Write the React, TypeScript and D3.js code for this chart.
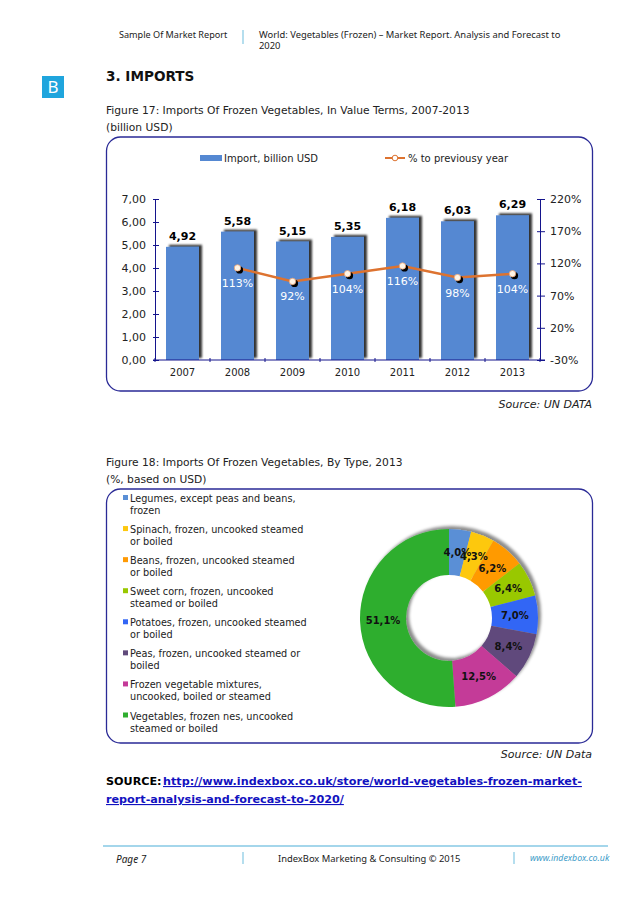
import React, { useEffect, useRef } from 'react';
import * as d3 from 'd3';

const years = ['2007', '2008', '2009', '2010', '2011', '2012', '2013'];
const imports = [4.92, 5.58, 5.15, 5.35, 6.18, 6.03, 6.29];
const yoyYears = ['2008', '2009', '2010', '2011', '2012', '2013'];
const yoy = [113, 92, 104, 116, 98, 104];
const leftTicks = [0, 1, 2, 3, 4, 5, 6, 7];
const rightTicks = [-30, 20, 70, 120, 170, 220];

const typeNames = [
  ['Legumes, except peas and beans,', 'frozen'],
  ['Spinach, frozen, uncooked steamed', 'or boiled'],
  ['Beans, frozen, uncooked steamed', 'or boiled'],
  ['Sweet corn, frozen, uncooked', 'steamed or boiled'],
  ['Potatoes, frozen, uncooked steamed', 'or boiled'],
  ['Peas, frozen, uncooked steamed or', 'boiled'],
  ['Frozen vegetable mixtures,', 'uncooked, boiled or steamed'],
  ['Vegetables, frozen nes, uncooked', 'steamed or boiled'],
];
const typeShares = [4.0, 4.3, 6.2, 6.4, 7.0, 8.4, 12.5, 51.1];
const typeColors = ['#5a8fd6', '#fdc80f', '#ff9a05', '#99c800', '#3366f5', '#604a7b', '#c43a98', '#2fae2f'];

const SANS = 'DejaVu Sans, Verdana, sans-serif';
const NARROW = '"Noto Sans", Tahoma, sans-serif';
const NAVY = '#14148c';

const comma = d3.formatLocale({ decimal: ',', thousands: ' ', grouping: [3], currency: ['', ''] });
const fmt2 = comma.format('.2f');
const fmt1 = comma.format('.1f');

export default function App() {
  const svgRef = useRef<SVGSVGElement>(null);

  useEffect(() => {
    if (!svgRef.current) return;
    const svg = d3.select(svgRef.current);
    svg.selectAll('*').remove();

    const defs = svg.append('defs');
    const shadow = defs.append('filter').attr('id', 'barShadow')
      .attr('x', '-20%').attr('y', '-20%').attr('width', '150%').attr('height', '140%');
    shadow.append('feDropShadow').attr('dx', 3).attr('dy', -2).attr('stdDeviation', 1)
      .attr('flood-color', '#000').attr('flood-opacity', 0.8);
    const pieShadow = defs.append('filter').attr('id', 'pieShadow')
      .attr('x', '-20%').attr('y', '-20%').attr('width', '140%').attr('height', '140%');
    pieShadow.append('feDropShadow').attr('dx', 3).attr('dy', -3).attr('stdDeviation', 1.5)
      .attr('flood-color', '#000').attr('flood-opacity', 0.45);

    const text = (x: number, y: number, s: string, size: number, opts: any = {}) =>
      svg.append('text').attr('x', x).attr('y', y).text(s)
        .attr('font-family', opts.family || SANS).attr('font-size', size)
        .attr('font-weight', opts.weight || 'normal').attr('font-style', opts.style || 'normal')
        .attr('fill', opts.fill || '#222').attr('text-anchor', opts.anchor || 'start')
        .attr('text-decoration', opts.deco || null);

    // page furniture
    text(119, 38, 'Sample Of Market Report', 9.1, { family: NARROW });
    text(259, 38, 'World: Vegetables (Frozen) – Market Report. Analysis and Forecast to', 9.4, { family: NARROW });
    text(259, 49, '2020', 9.4, { family: NARROW });
    svg.append('rect').attr('x', 242).attr('y', 30).attr('width', 2).attr('height', 14).attr('fill', '#b5deee');
    svg.append('rect').attr('x', 42).attr('y', 76).attr('width', 22).attr('height', 22).attr('fill', '#1fa5dd');
    text(53, 93, 'B', 17, { family: NARROW, fill: '#fff', anchor: 'middle' });
    text(106, 81, '3. IMPORTS', 13.6, { weight: 'bold', fill: '#111' });
    text(106, 114, 'Figure 17: Imports Of Frozen Vegetables, In Value Terms, 2007-2013', 10.7);
    text(106, 131, '(billion USD)', 10.7);

    svg.append('rect').attr('x', 106.5).attr('y', 137).attr('width', 486).attr('height', 254).attr('rx', 14)
      .attr('fill', '#fff').attr('stroke', '#2a2a96').attr('stroke-width', 1.3);

    // chart 1
    const x = d3.scaleBand<string>().domain(years).range([155, 540]).paddingInner(0.4).paddingOuter(0.2);
    const yL = d3.scaleLinear().domain([0, 7]).range([360, 199]);
    const yR = d3.scaleLinear().domain([-30, 220]).range([360, 199]);
    const cx = (d: string) => (x(d) as number) + x.bandwidth() / 2;

    svg.append('g').selectAll('rect').data(imports).join('rect')
      .attr('x', (_, i) => x(years[i]) as number)
      .attr('y', d => yL(d))
      .attr('width', x.bandwidth())
      .attr('height', d => yL(0) - yL(d))
      .attr('fill', '#5588d2')
      .attr('filter', 'url(#barShadow)');

    const axisStyle = (g: any) => {
      g.selectAll('path,line').attr('stroke', NAVY).attr('stroke-width', 1);
      g.selectAll('text').attr('fill', '#222').attr('font-family', SANS).attr('font-size', 11);
    };
    svg.append('g').attr('transform', 'translate(155,0)')
      .call(d3.axisLeft(yL).tickValues(leftTicks).tickFormat(d => fmt2(d as number)).tickSize(0).tickPadding(9).tickSizeOuter(0) as any)
      .call(axisStyle)
      .call((g: any) => g.selectAll('.tick').append('line').attr('x1', -2).attr('x2', 4).attr('stroke', NAVY));
    svg.append('g').attr('transform', 'translate(540,0)')
      .call(d3.axisRight(yR).tickValues(rightTicks).tickFormat(d => `${d}%`).tickSize(0).tickPadding(10).tickSizeOuter(0) as any)
      .call(axisStyle)
      .call((g: any) => g.selectAll('.tick').append('line').attr('x1', -3).attr('x2', 5).attr('stroke', NAVY));

    const baseline = svg.append('g');
    baseline.append('line').attr('x1', 153).attr('x2', 545).attr('y1', yL(0)).attr('y2', yL(0)).attr('stroke', NAVY);
    baseline.selectAll('line.t').data(d3.range(years.length + 1)).join('line').attr('class', 't')
      .attr('x1', i => 155 + x.step() * i).attr('x2', i => 155 + x.step() * i)
      .attr('y1', 358).attr('y2', 362).attr('stroke', NAVY);

    svg.append('g').selectAll('text').data(years).join('text')
      .attr('x', cx).attr('y', 376).text(d => d)
      .attr('text-anchor', 'middle').attr('font-family', SANS).attr('font-size', 10).attr('fill', '#222');

    svg.append('g').selectAll('text').data(imports).join('text')
      .attr('x', (_, i) => cx(years[i])).attr('y', d => yL(d) - 7).text(d => fmt2(d))
      .attr('text-anchor', 'middle').attr('font-family', SANS).attr('font-weight', 'bold')
      .attr('font-size', 11).attr('fill', '#000');

    const line = d3.line<number>().x((_, i) => cx(yoyYears[i])).y(d => yR(d));
    svg.append('path').attr('d', line(yoy)).attr('fill', 'none').attr('stroke', '#dd7330').attr('stroke-width', 2.5);
    svg.append('g').selectAll('circle').data(yoy).join('circle')
      .attr('cx', (_, i) => cx(yoyYears[i]) + 2).attr('cy', d => yR(d) + 2).attr('r', 3.6).attr('fill', '#000');
    svg.append('g').selectAll('circle').data(yoy).join('circle')
      .attr('cx', (_, i) => cx(yoyYears[i])).attr('cy', d => yR(d)).attr('r', 3.2)
      .attr('fill', '#fff4e6').attr('stroke', '#e8a070').attr('stroke-width', 0.8);
    svg.append('g').selectAll('text').data(yoy).join('text')
      .attr('x', (_, i) => cx(yoyYears[i])).attr('y', d => yR(d) + 19).text(d => `${d}%`)
      .attr('text-anchor', 'middle').attr('font-family', SANS).attr('font-size', 11).attr('fill', '#fff');

    // legend chart 1
    svg.append('rect').attr('x', 200).attr('y', 155).attr('width', 22).attr('height', 6).attr('fill', '#5588d2');
    text(224, 162, 'Import, billion USD', 10);
    svg.append('line').attr('x1', 385).attr('x2', 405).attr('y1', 158).attr('y2', 158).attr('stroke', '#dd7330').attr('stroke-width', 2);
    svg.append('circle').attr('cx', 395).attr('cy', 158).attr('r', 2.8).attr('fill', '#fff').attr('stroke', '#dd7330');
    text(408, 162, '% to previousy year', 10);

    text(592, 408, 'Source: UN DATA', 11, { style: 'italic', anchor: 'end' });
    text(106, 466, 'Figure 18: Imports Of Frozen Vegetables, By Type, 2013', 10.7);
    text(106, 483, '(%, based on USD)', 10.7);

    svg.append('rect').attr('x', 106.5).attr('y', 489).attr('width', 486).attr('height', 254).attr('rx', 14)
      .attr('fill', '#fff').attr('stroke', '#2a2a96').attr('stroke-width', 1.3);

    // chart 2 legend
    const legendY = d3.scalePoint<number>().domain(d3.range(typeNames.length)).range([502, 719.5]);
    typeNames.forEach((lines, i) => {
      const y0 = legendY(i) as number;
      svg.append('rect').attr('x', 123).attr('y', y0 - 7).attr('width', 5).attr('height', 5).attr('fill', typeColors[i]);
      lines.forEach((l, k) => text(130, y0 + k * 12, l, 9.7));
    });

    // donut
    const pie = d3.pie<number>().sort(null).value(d => d)(typeShares);
    const arc = d3.arc<d3.PieArcDatum<number>>().innerRadius(43).outerRadius(89);
    const donut = svg.append('g').attr('transform', 'translate(449,618)');
    donut.append('g').attr('filter', 'url(#pieShadow)')
      .selectAll('path').data(pie).join('path')
      .attr('d', arc).attr('fill', (_, i) => typeColors[i]);
    donut.append('g').selectAll('text').data(pie).join('text')
      .attr('transform', d => `translate(${arc.centroid(d)})`).attr('dy', '0.35em')
      .text(d => `${fmt1(d.data)}%`)
      .attr('text-anchor', 'middle').attr('font-family', SANS).attr('font-weight', 'bold')
      .attr('font-size', 10).attr('fill', '#111');

    text(592, 758, 'Source: UN Data', 11, { style: 'italic', anchor: 'end' });

    text(106, 785, 'SOURCE:', 11.2, { weight: 'bold', fill: '#000' });
    text(163, 785, 'http://www.indexbox.co.uk/store/world-vegetables-frozen-market-', 11.2, { weight: 'bold', fill: '#1212c0', deco: 'underline' });
    text(106, 803, 'report-analysis-and-forecast-to-2020/', 11.2, { weight: 'bold', fill: '#1212c0', deco: 'underline' });

    // footer
    svg.append('line').attr('x1', 103).attr('x2', 608).attr('y1', 846).attr('y2', 846).attr('stroke', '#86c9e4').attr('stroke-width', 1.5);
    svg.append('rect').attr('x', 242).attr('y', 852).attr('width', 2).attr('height', 12).attr('fill', '#b5deee');
    svg.append('rect').attr('x', 513).attr('y', 852).attr('width', 2).attr('height', 12).attr('fill', '#b5deee');
    text(116, 863, 'Page 7', 10, { style: 'italic', family: NARROW });
    text(278, 862, 'IndexBox Marketing & Consulting © 2015', 9.4, { family: NARROW });
    text(530, 861, 'www.indexbox.co.uk', 8.8, { style: 'italic', family: NARROW, fill: '#3d9cc8' });
  }, []);

  return (
    <svg ref={svgRef} width={638} height={903}
      style={{ position: 'absolute', left: 0, top: 0, background: '#fff' }} />
  );
}
